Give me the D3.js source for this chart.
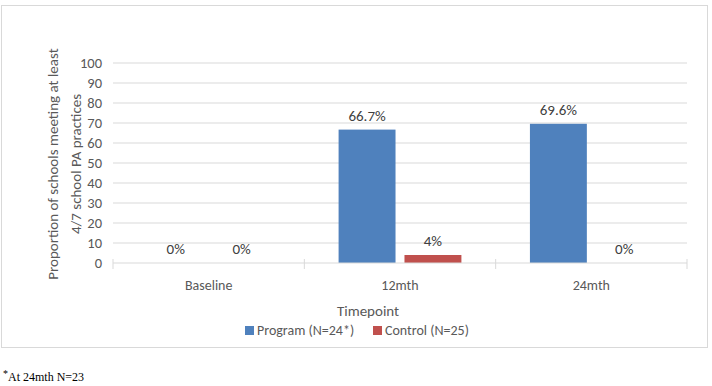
<!DOCTYPE html>
<html>
<head>
<meta charset="utf-8">
<script src="https://cdn.jsdelivr.net/npm/d3@7"></script>
<style>
  body { margin: 0; background: #fff; }
  svg { display: block; font-family: Calibri, Carlito, Lato, sans-serif; }
</style>
</head>
<body>
<svg id="chart" width="712" height="386"></svg>
<script>
// data
const timepoints = ["Baseline", "12mth", "24mth"];
const seriesNames = ["Program (N=24*)", "Control (N=25)"];
const programVals = [0, 66.7, 69.6];
const controlVals = [0, 4, 0];
const labelsProgram = ["0%", "66.7%", "69.6%"];
const labelsControl = ["0%", "4%", "0%"];
const yTicks = [0, 10, 20, 30, 40, 50, 60, 70, 80, 90, 100];
const colors = ["#4f81bd", "#c0504d"];

const svg = d3.select("#chart");
const margin = {left: 113, right: 25, top: 63, bottom: 123};
const W = 712, H = 386;

// outer chart border
svg.append("rect")
  .attr("x", 1.5).attr("y", 5.5)
  .attr("width", 706).attr("height", 342)
  .attr("fill", "#fff").attr("stroke", "#d9d9d9");

const x = d3.scaleBand()
  .domain(timepoints)
  .range([margin.left, W - margin.right])
  .paddingInner(0).paddingOuter(0);

const xs = d3.scaleBand()
  .domain([0, 1])
  .range([0, x.bandwidth()])
  .paddingInner(0.136).paddingOuter(0.52);

const y = d3.scaleLinear()
  .domain([0, 100])
  .range([H - margin.bottom, margin.top]);

// gridlines
svg.append("g")
  .selectAll("line")
  .data(yTicks.filter(d => d > 0))
  .join("line")
  .attr("x1", margin.left).attr("x2", W - margin.right)
  .attr("y1", d => y(d)).attr("y2", d => y(d))
  .attr("stroke", "#d9d9d9").attr("stroke-width", 1);

// y tick labels
svg.append("g")
  .selectAll("text")
  .data(yTicks)
  .join("text")
  .attr("x", 102)
  .attr("y", d => y(d) + 5)
  .attr("text-anchor", "end")
  .attr("font-size", 14.5)
  .attr("fill", "#595959")
  .text(d => d);

// bars
const series = [programVals, controlVals];
const labels = [labelsProgram, labelsControl];
series.forEach((vals, s) => {
  svg.append("g")
    .selectAll("rect")
    .data(vals)
    .join("rect")
    .attr("x", (d, i) => x(timepoints[i]) + xs(s))
    .attr("width", xs.bandwidth())
    .attr("y", d => y(d))
    .attr("height", d => y(0) - y(d))
    .attr("fill", colors[s]);

  svg.append("g")
    .selectAll("text")
    .data(vals)
    .join("text")
    .attr("x", (d, i) => x(timepoints[i]) + xs(s) + xs.bandwidth() / 2)
    .attr("y", d => y(d) - 9)
    .attr("text-anchor", "middle")
    .attr("font-size", 15)
    .attr("fill", "#404040")
    .text((d, i) => labels[s][i]);
});

// x axis
const xAxis = svg.append("g");
xAxis.append("line")
  .attr("x1", margin.left).attr("x2", W - margin.right)
  .attr("y1", y(0)).attr("y2", y(0))
  .attr("stroke", "#d9d9d9");
const edges = timepoints.map(t => x(t)).concat([x(timepoints[2]) + x.bandwidth()]);
xAxis.selectAll(".tk")
  .data(edges)
  .join("line")
  .attr("x1", d => d).attr("x2", d => d)
  .attr("y1", y(0) - 4).attr("y2", y(0) + 6)
  .attr("stroke", "#d9d9d9");
xAxis.selectAll("text")
  .data(timepoints)
  .join("text")
  .attr("x", d => x(d) + x.bandwidth() / 2)
  .attr("y", 290)
  .attr("text-anchor", "middle")
  .attr("font-size", 14)
  .attr("fill", "#595959")
  .text(d => d);

// axis titles
svg.append("text")
  .attr("x", 368)
  .attr("y", 316)
  .attr("text-anchor", "middle")
  .attr("font-size", 15)
  .attr("fill", "#595959")
  .text("Timepoint");

const yTitle = svg.append("text")
  .attr("transform", "translate(0,164) rotate(-90)")
  .attr("text-anchor", "middle")
  .attr("font-size", 15)
  .attr("fill", "#595959");
yTitle.append("tspan").attr("x", 0).attr("y", 58).text("Proportion of schools meeting at least");
yTitle.append("tspan").attr("x", 0).attr("y", 81).text("4/7 school PA practices");

// legend
const legendX = [245, 373];
const lg = svg.append("g");
seriesNames.forEach((n, i) => {
  lg.append("rect")
    .attr("x", legendX[i]).attr("y", 326)
    .attr("width", 9).attr("height", 9)
    .attr("fill", colors[i]);
  lg.append("text")
    .attr("x", legendX[i] + 12).attr("y", 335)
    .attr("font-size", 14)
    .attr("fill", "#595959")
    .text(n);
});

// footnote
const fn = svg.append("text")
  .attr("x", 3).attr("y", 381)
  .attr("font-family", "'Liberation Serif', 'Times New Roman', serif")
  .attr("font-size", 12)
  .attr("fill", "#000");
fn.append("tspan").attr("font-size", 10).attr("dy", -4).text("*");
fn.append("tspan").attr("dy", 4).text("At 24mth N=23");
</script>
</body>
</html>
